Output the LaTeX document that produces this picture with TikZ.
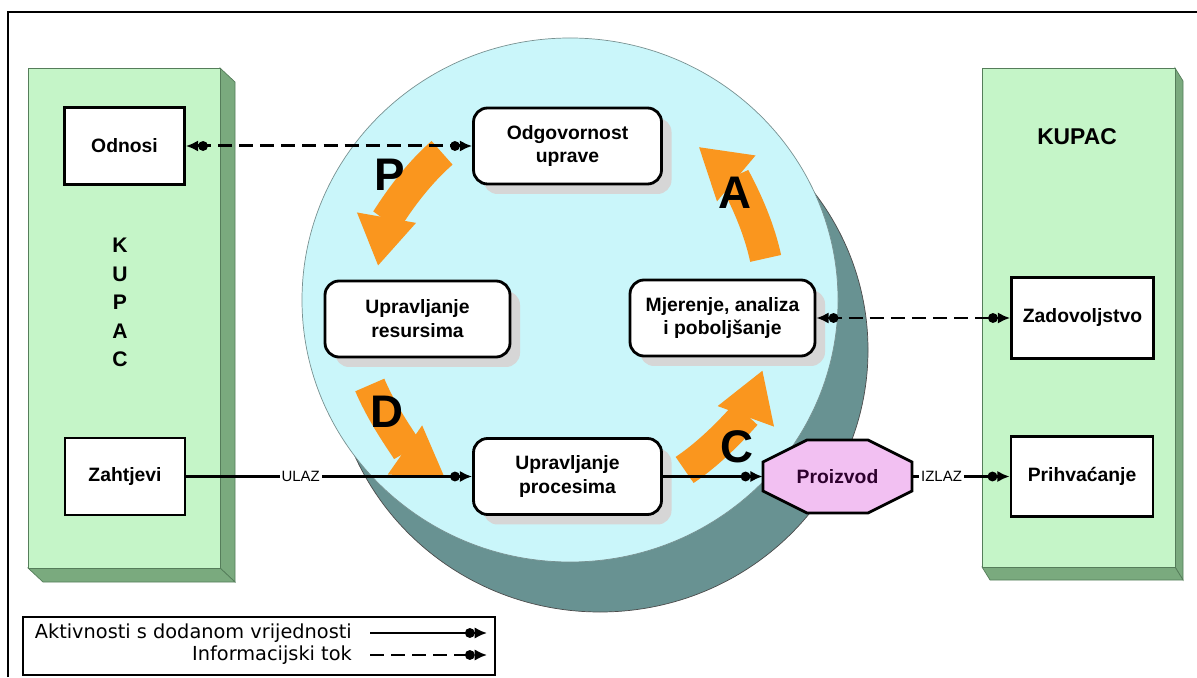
\documentclass[tikz,border=0pt]{standalone}
\usepackage{fontspec}
\setmainfont{Liberation Sans}
\newfontfamily\legendfont{DejaVu Sans}
\usetikzlibrary{arrows.meta,shadows}

\definecolor{kupacgreen}{RGB}{197,245,200}
\definecolor{kupacside}{RGB}{122,170,126}
\definecolor{kupacline}{RGB}{85,125,90}
\definecolor{circlecyan}{RGB}{202,246,250}
\definecolor{circleline}{RGB}{120,145,145}
\definecolor{circleshadow}{RGB}{104,146,146}
\definecolor{pdcaorange}{RGB}{250,150,30}
\definecolor{productpink}{RGB}{242,192,242}
\definecolor{producttext}{RGB}{45,0,45}

\begin{document}
\begin{tikzpicture}[
        dotarr/.tip={Circle[length=5.5pt] Latex[length=7pt,width=6.5pt]},
        kupacbox/.style={draw, line width=1.6pt, fill=white, minimum width=2.4cm, minimum height=1.54cm, font=\fontsize{11}{13.6}\selectfont\bfseries},
        procbox/.style={draw, line width=1.6pt, fill=white, rounded corners=8pt, minimum width=3.76cm, minimum height=1.52cm, align=center, font=\fontsize{11}{13.6}\selectfont\bfseries, drop shadow={shadow xshift=0.2cm, shadow yshift=-0.2cm, fill=black!16, opacity=1}},
        flow/.style={line width=1.7pt, -{dotarr}},
        info/.style={line width=1.7pt, dash pattern=on 8pt off 4pt, {dotarr}-{dotarr}},
        pdca/.style={pdcaorange, line width=18pt, -{Triangle[length=28pt,width=32pt]}},
        pdcaletter/.style={font=\fontsize{26}{26}\selectfont\bfseries},
        flowlabel/.style={fill=white, inner sep=1pt, font=\fontsize{8.5}{10}\selectfont}
    ]
        \useasboundingbox (0,0) rectangle (23.94,13.54);

        % frame (only top and left edge are visible)
        \draw[line width=1.2pt] (0.16,0) -- (0.16,13.30) -- (23.94,13.30);

        % left customer block
        \draw[kupacline, fill=kupacside] (4.40,12.18) -- (4.70,11.90) -- (4.70,1.90) -- (4.40,2.18) -- cycle;
        \draw[kupacline, fill=kupacside] (0.56,2.18) -- (4.40,2.18) -- (4.70,1.90) -- (0.86,1.90) -- cycle;
        \draw[kupacline, fill=kupacgreen] (0.56,2.18) rectangle (4.40,12.18);

        % right customer block
        \draw[kupacline, fill=kupacside] (23.50,12.18) -- (23.66,11.92) -- (23.66,1.94) -- (23.50,2.20) -- cycle;
        \draw[kupacline, fill=kupacside] (19.64,2.20) -- (23.50,2.20) -- (23.66,1.94) -- (19.80,1.94) -- cycle;
        \draw[kupacline, fill=kupacgreen] (19.64,2.20) rectangle (23.50,12.18);

        % the disc with its shadow
        \coordinate (disc) at (11.40,7.54);
        \draw[black!70, fill=circleshadow] ([shift={(0.6,-1.0)}]disc) ellipse (5.36cm and 5.24cm);
        \draw[circleline, fill=circlecyan] (disc) ellipse (5.36cm and 5.24cm);

        % PDCA arrows, running round the disc
        \draw[pdca] ([shift={(131:3.9)}]disc) arc[start angle=131, end angle=170, radius=3.9];
        \draw[pdca] ([shift={(203:4.35)}]disc) arc[start angle=203, end angle=235, radius=4.35];
        \draw[pdca] ([shift={(-56:4.1)}]disc) arc[start angle=-56, end angle=-20, radius=4.1];
        \draw[pdca] ([shift={(12:4.0)}]disc) arc[start angle=12, end angle=50, radius=4.0];

        \node[pdcaletter] (letterP) at (7.80,10.04) {P};
        \node[pdcaletter] (letterD) at (7.74,5.30) {D};
        \node[pdcaletter] (letterC) at (14.74,4.60) {C};
        \node[pdcaletter] (letterA) at (14.70,9.68) {A};

        % customer texts
        \node[align=center, font=\fontsize{12}{16.3}\selectfont\bfseries] (kupacL) at (2.40,7.49) {K\\U\\P\\A\\C};
        \node[font=\fontsize{13}{15}\selectfont\bfseries] (kupacR) at (21.54,10.80) {KUPAC};

        \node[kupacbox] (odnosi) at (2.49,10.62) {Odnosi};
        \node[kupacbox] (zahtjevi) at (2.50,4.01) {Zahtjevi};
        \node[kupacbox, minimum width=2.84cm, minimum height=1.62cm] (zadovoljstvo) at (21.65,7.18) {Zadovoljstvo};
        \node[kupacbox, minimum width=2.84cm, minimum height=1.60cm] (prihvacanje) at (21.64,4.01) {Prihvaćanje};

        % processes inside the disc
        \node[procbox] (odgovornost) at (11.35,10.62) {Odgovornost\\uprave};
        \node[procbox, minimum width=3.70cm] (resursi) at (8.35,7.16) {Upravljanje\\resursima};
        \node[procbox, minimum width=3.70cm] (mjerenje) at (14.45,7.18) {Mjerenje, analiza\\i poboljšanje};
        \node[procbox] (procesi) at (11.35,4.01) {Upravljanje\\procesima};

        % product
        \draw[line width=1.6pt, fill=productpink] (16.14,4.74) -- (17.36,4.74) -- (18.24,4.30) -- (18.24,3.72)
            -- (17.36,3.28) -- (16.14,3.28) -- (15.26,3.72) -- (15.26,4.30) -- cycle;
        \node[minimum width=2.98cm, minimum height=1.46cm, text=producttext, font=\fontsize{11}{13.6}\selectfont\bfseries] (proizvod) at (16.75,4.01) {Proizvod};

        % flows
        \draw[info] (odnosi) -- (odgovornost);
        \draw[info] (mjerenje) -- (zadovoljstvo);
        \draw[flow] (zahtjevi) -- node[flowlabel, pos=0.4] {ULAZ} (procesi);
        \draw[flow] (procesi) -- (proizvod);
        \draw[flow] (proizvod) -- node[flowlabel, pos=0.3] {IZLAZ} (prihvacanje);

        % Legend
        \draw[line width=0.8pt] (0.46,0.04) rectangle (9.90,1.20);
        \node[anchor=east, font=\legendfont\fontsize{11}{12}\selectfont] (legend1) at (7.16,0.88) {Aktivnosti s dodanom vrijednosti};
        \node[anchor=east, font=\legendfont\fontsize{11}{12}\selectfont] (legend2) at (7.16,0.44) {Informacijski tok};
        \coordinate (leg1a) at (7.40,0.88);
        \coordinate (leg1b) at (9.74,0.88);
        \coordinate (leg2a) at (7.40,0.44);
        \coordinate (leg2b) at (9.74,0.44);
        \draw[flow] (leg1a) -- (leg1b);
        \draw[flow, dash pattern=on 8pt off 4pt] (leg2a) -- (leg2b);

\end{tikzpicture}
\end{document}
